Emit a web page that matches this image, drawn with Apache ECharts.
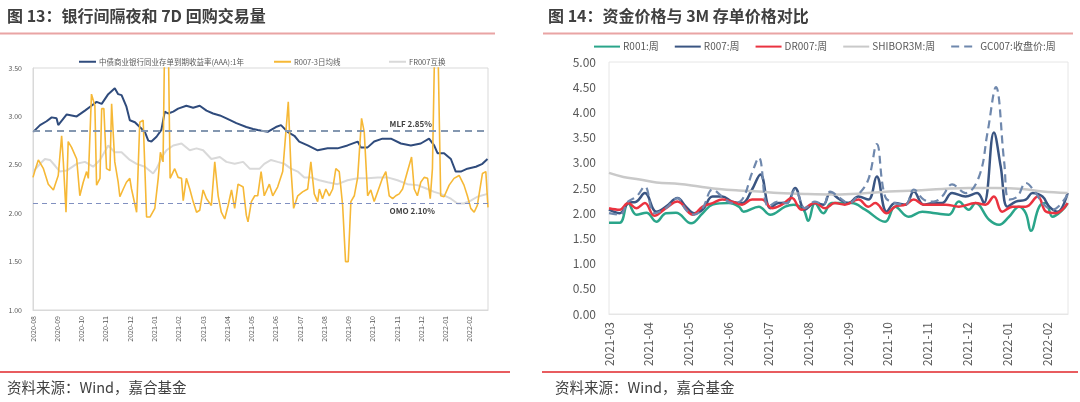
<!DOCTYPE html>
<html>
<head>
<meta charset="utf-8">
<script src="https://cdn.jsdelivr.net/npm/echarts@6/dist/echarts.min.js"></script>
<style>
  html, body { margin: 0; padding: 0; background: #fff; }
  #main { width: 1080px; height: 402px; }
</style>
</head>
<body>
<div id="main"></div>
<script>
// x = months since first label (fractional), y = rate %
var months13 = ['2020-08','2020-09','2020-10','2020-11','2020-12','2021-01','2021-02','2021-03','2021-04','2021-05','2021-06','2021-07','2021-08','2021-09','2021-10','2021-11','2021-12','2022-01','2022-02'];
var months14 = ['2021-03','2021-04','2021-05','2021-06','2021-07','2021-08','2021-09','2021-10','2021-11','2021-12','2022-01','2022-02'];

var names13 = ['中债商业银行同业存单到期收益率(AAA):1年', 'R007-3日均线', 'FR007互换'];
var names14 = ['R001:周', 'R007:周', 'DR007:周', 'SHIBOR3M:周', 'GC007:收盘价:周'];

var mlf = 2.85, omo = 2.10;

var cd1y = [[0.01,2.84],[0.29,2.91],[0.56,2.95],[0.77,2.99],[0.97,2.98],[1.04,2.91],[1.39,3.02],[1.80,3.00],[2.14,3.06],[2.41,3.11],[2.62,3.15],[2.83,3.13],[3.10,3.23],[3.37,3.29],[3.51,3.23],[3.65,3.22],[3.85,3.10],[3.99,2.96],[4.20,2.94],[4.40,2.89],[4.61,2.84],[4.75,2.75],[4.88,2.74],[5.09,2.79],[5.29,2.86],[5.43,3.05],[5.57,3.03],[5.78,3.05],[5.98,3.08],[6.32,3.11],[6.60,3.09],[6.87,3.11],[7.15,3.06],[7.42,3.03],[7.70,3.01],[7.97,2.98],[8.38,2.93],[8.79,2.89],[9.07,2.87],[9.26,2.86],[9.67,2.84],[10.01,2.89],[10.22,2.91],[10.49,2.84],[10.77,2.80],[10.97,2.74],[11.32,2.70],[11.73,2.65],[12.14,2.67],[12.55,2.67],[12.96,2.70],[13.38,2.74],[13.51,2.68],[13.79,2.68],[14.06,2.74],[14.40,2.77],[14.75,2.77],[15.16,2.72],[15.57,2.70],[15.98,2.72],[16.32,2.77],[16.53,2.70],[16.67,2.62],[16.94,2.62],[17.22,2.56],[17.42,2.43],[17.63,2.43],[17.90,2.46],[18.25,2.48],[18.52,2.51],[18.73,2.56]];

var r007ma = [[0,2.37],[0.08,2.44],[0.22,2.55],[0.43,2.46],[0.63,2.30],[0.84,2.24],[1.04,2.39],[1.18,2.80],[1.25,2.53],[1.36,2.01],[1.45,2.74],[1.59,2.68],[1.80,2.56],[1.93,2.18],[2.07,2.32],[2.21,2.43],[2.28,2.36],[2.41,3.23],[2.55,3.11],[2.62,2.29],[2.76,2.36],[2.83,3.08],[2.92,3.08],[3.03,2.46],[3.17,2.44],[3.24,3.13],[3.37,2.53],[3.51,2.32],[3.58,2.17],[3.72,2.25],[3.85,2.32],[3.99,2.36],[4.06,2.25],[4.27,2.01],[4.40,2.94],[4.54,2.96],[4.68,1.96],[4.82,1.96],[5.02,2.05],[5.16,2.36],[5.25,2.63],[5.36,2.53],[5.42,3.70],[5.58,3.70],[5.65,2.36],[5.84,2.46],[5.98,2.37],[6.12,2.36],[6.19,2.13],[6.32,2.36],[6.46,2.25],[6.60,2.12],[6.74,2.01],[6.87,2.03],[7.01,2.24],[7.15,2.15],[7.35,2.08],[7.49,2.53],[7.63,2.18],[7.76,2.01],[7.90,1.94],[8.04,2.08],[8.18,2.24],[8.31,2.05],[8.45,2.30],[8.66,2.27],[8.79,1.98],[8.86,1.91],[9.00,2.12],[9.14,2.18],[9.26,2.18],[9.40,2.43],[9.53,2.18],[9.74,2.30],[9.88,2.18],[10.08,2.27],[10.29,2.43],[10.52,3.15],[10.63,2.46],[10.74,2.05],[10.91,2.18],[11.11,2.22],[11.32,2.25],[11.45,2.53],[11.59,2.20],[11.73,2.12],[11.80,2.25],[11.93,2.15],[12.07,2.25],[12.21,2.18],[12.35,2.25],[12.48,2.46],[12.62,2.43],[12.76,2.08],[12.88,1.50],[12.99,1.50],[13.10,2.12],[13.24,2.18],[13.38,2.37],[13.54,2.98],[13.65,2.84],[13.79,2.18],[13.92,2.24],[14.06,2.12],[14.20,2.22],[14.40,2.36],[14.54,2.43],[14.68,2.18],[14.82,2.15],[14.95,2.18],[15.09,2.20],[15.23,2.25],[15.43,2.43],[15.60,2.58],[15.71,2.25],[15.84,2.18],[15.98,2.32],[16.12,2.37],[16.26,2.36],[16.37,2.15],[16.46,2.46],[16.55,3.70],[16.69,3.70],[16.80,2.18],[16.94,2.17],[17.15,2.29],[17.35,2.36],[17.56,2.39],[17.76,2.29],[17.90,2.18],[18.04,2.05],[18.18,2.01],[18.31,2.08],[18.52,2.41],[18.66,2.43],[18.75,2.06]];

var fr007 = [[0.01,2.43],[0.29,2.51],[0.49,2.56],[0.70,2.55],[0.91,2.49],[1.11,2.43],[1.39,2.44],[1.80,2.51],[2.14,2.53],[2.48,2.48],[2.76,2.55],[3.10,2.70],[3.37,2.63],[3.65,2.63],[3.99,2.55],[4.27,2.51],[4.61,2.48],[4.95,2.41],[5.09,2.46],[5.36,2.60],[5.50,2.65],[5.78,2.70],[6.12,2.72],[6.46,2.65],[6.74,2.67],[7.01,2.65],[7.35,2.56],[7.70,2.58],[7.97,2.53],[8.31,2.51],[8.66,2.53],[8.93,2.46],[9.34,2.46],[9.53,2.51],[9.81,2.55],[10.08,2.53],[10.36,2.51],[10.63,2.46],[10.91,2.43],[11.18,2.37],[11.45,2.37],[11.80,2.34],[12.14,2.32],[12.55,2.30],[12.96,2.34],[13.38,2.36],[13.79,2.36],[14.20,2.37],[14.61,2.37],[15.02,2.34],[15.43,2.30],[15.84,2.29],[16.26,2.25],[16.53,2.22],[16.80,2.20],[17.22,2.15],[17.49,2.10],[17.76,2.10],[18.04,2.13],[18.31,2.17],[18.73,2.20]];

// weekly series, chart 14 (x = months since 2021-03)
var r001 = [[0,1.81],[0.27,1.81],[0.48,2.2],[0.69,1.97],[0.94,2.01],[1.19,1.83],[1.43,2.0],[1.68,2.01],[2.06,1.8],[2.35,2.0],[2.6,2.17],[3.01,2.2],[3.26,2.13],[3.38,2.03],[3.76,2.13],[4.05,1.97],[4.42,2.13],[4.63,2.17],[4.88,2.07],[5.0,1.85],[5.17,2.2],[5.38,2.0],[5.59,2.2],[6.09,2.2],[6.43,2.07],[6.93,1.83],[7.18,2.13],[7.52,1.93],[7.86,2.03],[8.19,2.0],[8.53,1.97],[8.78,2.23],[9.03,2.07],[9.2,2.2],[9.54,1.87],[9.79,1.77],[10.04,1.93],[10.29,2.13],[10.46,2.0],[10.59,1.65],[10.8,2.13],[10.97,2.2],[11.13,1.93],[11.39,2.07],[11.51,2.2]];
var r007 = [[0,2.07],[0.27,2.0],[0.48,2.2],[0.69,2.23],[0.9,2.4],[1.19,2.03],[1.43,2.13],[1.72,2.3],[1.93,2.13],[2.14,2.0],[2.35,2.07],[2.6,2.33],[2.84,2.33],[3.09,2.23],[3.34,2.2],[3.59,2.47],[3.8,2.77],[4.05,2.1],[4.25,2.2],[4.46,2.2],[4.67,2.5],[4.92,2.07],[5.17,2.2],[5.38,2.17],[5.55,2.4],[5.8,2.27],[6.01,2.2],[6.26,2.33],[6.51,2.27],[6.72,2.73],[6.97,2.03],[7.18,2.2],[7.44,2.17],[7.65,2.43],[7.9,2.17],[8.15,2.2],[8.36,2.2],[8.61,2.4],[8.95,2.33],[9.24,2.4],[9.41,2.2],[9.66,3.6],[9.83,2.93],[10.0,2.13],[10.21,2.23],[10.46,2.27],[10.63,2.4],[10.88,2.33],[11.05,2.13],[11.26,2.03],[11.51,2.4]];
var dr007 = [[0,2.1],[0.27,2.07],[0.48,2.2],[0.69,2.1],[0.9,2.2],[1.14,1.95],[1.43,2.1],[1.72,2.23],[2.1,1.97],[2.35,2.13],[2.6,2.2],[2.84,2.27],[3.09,2.23],[3.34,2.17],[3.59,2.27],[3.84,2.27],[4.09,2.1],[4.34,2.17],[4.59,2.3],[4.83,2.07],[5.17,2.2],[5.42,2.1],[5.67,2.2],[5.92,2.17],[6.26,2.27],[6.51,2.13],[6.68,2.2],[6.97,2.0],[7.18,2.13],[7.44,2.17],[7.65,2.27],[7.9,2.17],[8.15,2.17],[8.45,2.17],[8.78,2.13],[9.2,2.2],[9.45,2.17],[9.66,2.33],[9.87,2.03],[10.13,2.13],[10.46,2.13],[10.76,2.33],[10.97,2.03],[11.22,2.0],[11.51,2.2]];
var shibor3m = [[0,2.8],[0.36,2.72],[0.77,2.67],[1.19,2.61],[1.77,2.58],[2.26,2.53],[2.76,2.48],[3.26,2.45],[3.76,2.43],[4.25,2.4],[4.92,2.38],[5.67,2.37],[6.34,2.39],[7.02,2.43],[7.69,2.45],[8.36,2.48],[9.03,2.5],[9.71,2.5],[10.38,2.48],[10.88,2.43],[11.51,2.4]];
var gc007 = [[0,2.0],[0.27,1.97],[0.48,2.23],[0.69,2.33],[0.9,2.53],[1.14,2.0],[1.43,2.1],[1.72,2.3],[1.93,2.07],[2.14,1.97],[2.35,2.1],[2.6,2.47],[2.84,2.33],[3.09,2.2],[3.34,2.27],[3.59,2.8],[3.76,3.1],[4.0,2.13],[4.25,2.23],[4.46,2.2],[4.67,2.47],[4.92,2.1],[5.17,2.23],[5.38,2.17],[5.55,2.43],[5.8,2.3],[6.01,2.2],[6.26,2.37],[6.51,2.67],[6.72,3.37],[6.93,2.33],[7.18,2.2],[7.44,2.17],[7.65,2.47],[7.9,2.27],[8.15,2.23],[8.36,2.33],[8.61,2.57],[8.95,2.4],[9.29,2.73],[9.5,3.6],[9.71,4.5],[9.92,3.0],[10.04,2.27],[10.25,2.33],[10.46,2.6],[10.71,2.4],[10.88,2.2],[11.13,2.07],[11.51,2.37]];

var FONT = '"Noto Sans CJK SC", "Noto Sans", sans-serif';
var AX = '#595959';

function monthLabel(list) {
  return function (v) {
    var i = Math.round(v);
    if (Math.abs(v - i) > 1e-6) return '';
    return list[i] || '';
  };
}

// legend: plain line icon, no symbol dot
function lineLegend(data, left, top, w, h, gap, size) {
  return {
    data: data, left: left, top: top, width: 480, padding: 0, itemWidth: w, itemHeight: h, itemGap: gap,
    itemStyle: { opacity: 0 },
    textStyle: { fontSize: size, color: AX, padding: [0, 0, 0, -2] }
  };
}

var chart = echarts.init(document.getElementById('main'), null, { renderer: 'canvas' });

var option = {
  backgroundColor: '#fff',
  animation: false,
  textStyle: { fontFamily: FONT },
  title: [
    { text: '图 13：银行间隔夜和 7D 回购交易量', left: 7, top: 8, padding: 0,
      textStyle: { fontSize: 16, fontWeight: 'bold', color: '#404040', fontFamily: FONT } },
    { text: '图 14：资金价格与 3M 存单价格对比', left: 548, top: 8, padding: 0,
      textStyle: { fontSize: 16, fontWeight: 'bold', color: '#404040', fontFamily: FONT } }
  ],
  legend: [
    lineLegend([names13[0]], 78, 58, 17, 8, 0, 7.5),
    lineLegend([names13[1]], 273, 58, 17, 8, 0, 7.5),
    lineLegend([names13[2]], 388, 58, 17, 8, 0, 7.5),
    lineLegend(names14, 593, 41, 26, 14, 15, 10)
  ],
  grid: [
    { left: 33, top: 68, width: 455, height: 242, show: true, borderColor: '#d9d9d9', borderWidth: 1 },
    { left: 609, top: 62, width: 459, height: 252, show: true, borderColor: '#e6e6e6', borderWidth: 1 }
  ],
  xAxis: [
    { type: 'value', gridIndex: 0, min: 0, max: 18.75, interval: 1,
      axisLine: { show: true, lineStyle: { color: '#d9d9d9' } }, axisTick: { show: false },
      splitLine: { show: false },
      axisLabel: { rotate: 90, fontSize: 7, color: AX, margin: 6, showMaxLabel: false, formatter: monthLabel(months13) } },
    { type: 'value', gridIndex: 1, min: 0, max: 11.52, interval: 1,
      axisLine: { show: true, lineStyle: { color: '#e6e6e6' } }, axisTick: { show: false },
      splitLine: { show: false },
      axisLabel: { rotate: 90, fontSize: 12, color: AX, margin: 8, showMaxLabel: false, formatter: monthLabel(months14) } }
  ],
  yAxis: [
    { type: 'value', gridIndex: 0, min: 1, max: 3.5, interval: 0.5,
      axisLine: { show: true, lineStyle: { color: '#d9d9d9' } }, axisTick: { show: false },
      splitLine: { show: false },
      axisLabel: { fontSize: 7, color: AX, margin: 11, formatter: function (v) { return v.toFixed(2); } } },
    { type: 'value', gridIndex: 1, min: 0, max: 5, interval: 0.5,
      axisLine: { show: false }, axisTick: { show: false },
      splitLine: { show: false },
      axisLabel: { fontSize: 12, color: AX, margin: 13, formatter: function (v) { return v.toFixed(2); } } }
  ],
  series: [
    { name: names13[2], type: 'line', xAxisIndex: 0, yAxisIndex: 0, data: fr007, symbol: 'none', z: 2,
      lineStyle: { color: '#d9d9d9', width: 2 }, itemStyle: { color: '#d9d9d9' } },
    { name: names13[0], type: 'line', xAxisIndex: 0, yAxisIndex: 0, data: cd1y, symbol: 'none', z: 3,
      lineStyle: { color: '#2f4b7c', width: 2 }, itemStyle: { color: '#2f4b7c' },
      markLine: {
        silent: true, symbol: 'none',
        data: [
          { yAxis: mlf, lineStyle: { color: '#8497b0', width: 1.8, type: [7, 5] },
            label: { show: true, position: 'insideEndTop', distance: [56, 3], formatter: 'MLF 2.85%',
              fontSize: 8, color: '#404040', fontWeight: 'bold' } },
          { yAxis: omo, lineStyle: { color: '#8190c0', width: 1.2, type: [5, 4] },
            label: { show: true, position: 'insideEndBottom', distance: [53, 3], formatter: 'OMO 2.10%',
              fontSize: 8, color: '#404040', fontWeight: 'bold' } }
        ]
      } },
    { name: names13[1], type: 'line', xAxisIndex: 0, yAxisIndex: 0, data: r007ma, symbol: 'none', z: 4,
      lineStyle: { color: '#f6b836', width: 1.6 }, itemStyle: { color: '#f6b836' } },

    { name: names14[0], type: 'line', xAxisIndex: 1, yAxisIndex: 1, data: r001, symbol: 'none', smooth: 0.4,
      lineStyle: { color: '#2aa58a', width: 2.5 }, itemStyle: { color: '#2aa58a' } },
    { name: names14[1], type: 'line', xAxisIndex: 1, yAxisIndex: 1, data: r007, symbol: 'none', smooth: 0.4,
      lineStyle: { color: '#3a5582', width: 2.5 }, itemStyle: { color: '#3a5582' } },
    { name: names14[2], type: 'line', xAxisIndex: 1, yAxisIndex: 1, data: dr007, symbol: 'none', smooth: 0.4,
      lineStyle: { color: '#ea3340', width: 2.5 }, itemStyle: { color: '#ea3340' } },
    { name: names14[3], type: 'line', xAxisIndex: 1, yAxisIndex: 1, data: shibor3m, symbol: 'none', smooth: 0.4,
      lineStyle: { color: '#c9c9c9', width: 2.5 }, itemStyle: { color: '#c9c9c9' } },
    { name: names14[4], type: 'line', xAxisIndex: 1, yAxisIndex: 1, data: gc007, symbol: 'none', smooth: 0.4,
      lineStyle: { color: '#6f88ad', width: 2.2, type: [8, 5] }, itemStyle: { color: '#6f88ad' } }
  ],
  graphic: [
    { type: 'line', shape: { x1: 0, y1: 33.5, x2: 495, y2: 33.5 }, style: { stroke: '#e9a4a4', lineWidth: 2 } },
    { type: 'line', shape: { x1: 543, y1: 33.5, x2: 1073, y2: 33.5 }, style: { stroke: '#e9a4a4', lineWidth: 2 } },
    { type: 'line', shape: { x1: 0, y1: 372, x2: 510, y2: 372 }, style: { stroke: '#e0262a', lineWidth: 1.5 } },
    { type: 'line', shape: { x1: 542, y1: 372, x2: 1078, y2: 372 }, style: { stroke: '#e0262a', lineWidth: 1.5 } },
    { type: 'text', left: 7, top: 380, style: { text: '资料来源：Wind，嘉合基金', font: '14.5px ' + FONT, fill: '#404040' } },
    { type: 'text', left: 555, top: 380, style: { text: '资料来源：Wind，嘉合基金', font: '14.5px ' + FONT, fill: '#404040' } }
  ]
};

chart.setOption(option);
</script>
</body>
</html>
